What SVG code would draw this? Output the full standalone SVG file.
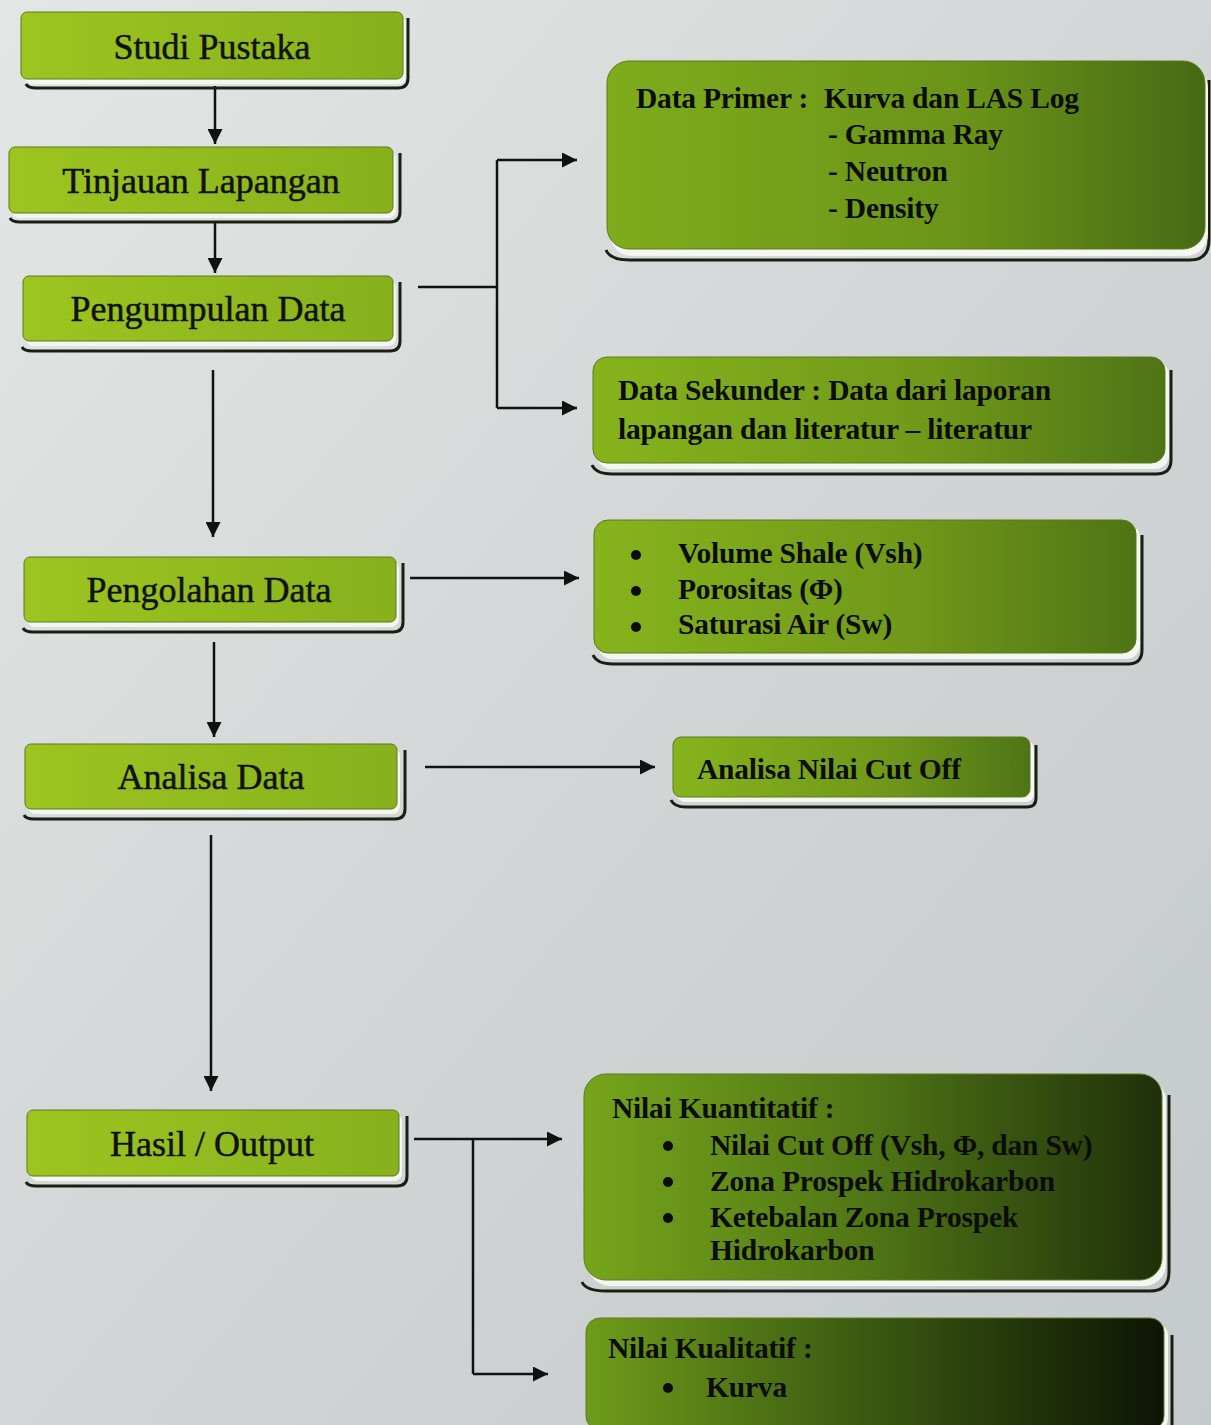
<svg xmlns="http://www.w3.org/2000/svg" width="1211" height="1425" viewBox="0 0 1211 1425">
<defs>
<linearGradient id="bg" x1="0" y1="0" x2="1" y2="1">
<stop offset="0" stop-color="#e2e6e4"/><stop offset="0.5" stop-color="#d2d6d6"/><stop offset="1" stop-color="#c4c9cb"/>
</linearGradient>
<linearGradient id="gL" x1="0" y1="0" x2="1" y2="0">
<stop offset="0" stop-color="#9cc520"/><stop offset="1" stop-color="#86b11c"/>
</linearGradient>
<linearGradient id="gR1" x1="0" y1="0" x2="1" y2="0">
<stop offset="0" stop-color="#7eac1c"/><stop offset="0.6" stop-color="#6a9418"/><stop offset="1" stop-color="#466a14"/>
</linearGradient>
<linearGradient id="gR2" x1="0" y1="0" x2="1" y2="0">
<stop offset="0" stop-color="#86b41c"/><stop offset="0.6" stop-color="#6f9819"/><stop offset="1" stop-color="#4e7416"/>
</linearGradient>
<linearGradient id="gR3" x1="0" y1="0" x2="1" y2="0">
<stop offset="0" stop-color="#76a51b"/><stop offset="0.5" stop-color="#4f7515"/><stop offset="1" stop-color="#1f300a"/>
</linearGradient>
<linearGradient id="gR4" x1="0" y1="0" x2="1" y2="0">
<stop offset="0" stop-color="#6e9c1a"/><stop offset="0.45" stop-color="#3e5e12"/><stop offset="1" stop-color="#0d1404"/>
</linearGradient>
<marker id="ahb" viewBox="0 0 10 10" refX="10" refY="5" markerWidth="15" markerHeight="15" markerUnits="userSpaceOnUse" orient="auto">
<path d="M0,0 L10,5 L0,10 z" fill="#111"/>
</marker>
</defs>
<style>
.sh{fill:none;stroke:#1a1f14;stroke-width:3}
.rim{fill:#f4f6f2}
.bx{stroke:#5c7a1a;stroke-width:1}
.tl{font-family:"Liberation Serif","Times New Roman",serif;font-size:36px;fill:#111;stroke:#111;stroke-width:0.5;text-anchor:middle}
.tr{font-family:"Liberation Serif","Times New Roman",serif;font-size:29.5px;font-weight:bold;fill:#0c0c0c;letter-spacing:-0.2px}
.cn{stroke:#111;stroke-width:2.5;fill:none}
</style>
<rect width="1211" height="1425" fill="url(#bg)"/>

<g id="connectors">
<line class="cn" x1="215" y1="86" x2="215" y2="144" marker-end="url(#ahb)"/>
<line class="cn" x1="215" y1="222" x2="215" y2="273" marker-end="url(#ahb)"/>
<line class="cn" x1="213" y1="370" x2="213" y2="537" marker-end="url(#ahb)"/>
<line class="cn" x1="214" y1="642" x2="214" y2="737" marker-end="url(#ahb)"/>
<line class="cn" x1="211" y1="835" x2="211" y2="1091" marker-end="url(#ahb)"/>
<polyline class="cn" points="418,287 497,287"/>
<polyline class="cn" points="497,160 497,408"/>
<line class="cn" x1="497" y1="160" x2="577" y2="160" marker-end="url(#ahb)"/>
<line class="cn" x1="497" y1="408" x2="577" y2="408" marker-end="url(#ahb)"/>
<line class="cn" x1="410" y1="578" x2="579" y2="578" marker-end="url(#ahb)"/>
<line class="cn" x1="425" y1="767" x2="655" y2="767" marker-end="url(#ahb)"/>
<line class="cn" x1="414" y1="1139" x2="562" y2="1139" marker-end="url(#ahb)"/>
<polyline class="cn" points="473,1139 473,1374"/>
<line class="cn" x1="473" y1="1374" x2="548" y2="1374" marker-end="url(#ahb)"/>
</g>

<g id="studi-pustaka">
<path class="sh" d="M26,84 Q28,88 36,88 L398,88 Q408,88 408,78 L408,18"/>
<rect class="rim" x="24" y="16" width="382" height="68" rx="8"/>
<rect class="bx" x="21" y="12" width="382" height="67" rx="6" fill="url(#gL)"/>
<text class="tl" x="212" y="59">Studi Pustaka</text>
</g>

<g id="tinjauan-lapangan">
<path class="sh" d="M10,218 Q12,222 20,222 L390,222 Q400,222 400,212 L400,153"/>
<rect class="rim" x="12" y="151" width="384" height="67" rx="8"/>
<rect class="bx" x="9" y="147" width="384" height="66" rx="6" fill="url(#gL)"/>
<text class="tl" x="201" y="193">Tinjauan Lapangan</text>
</g>

<g id="pengumpulan-data">
<path class="sh" d="M22,347 Q24,351 32,351 L390,351 Q400,351 400,341 L400,282"/>
<rect class="rim" x="26" y="280" width="370" height="66" rx="8"/>
<rect class="bx" x="23" y="276" width="370" height="65" rx="6" fill="url(#gL)"/>
<text class="tl" x="208" y="321">Pengumpulan Data</text>
</g>

<g id="pengolahan-data">
<path class="sh" d="M23,628 Q25,632 33,632 L393,632 Q403,632 403,622 L403,563"/>
<rect class="rim" x="27" y="561" width="372" height="66" rx="8"/>
<rect class="bx" x="24" y="557" width="372" height="65" rx="6" fill="url(#gL)"/>
<text class="tl" x="209" y="602">Pengolahan Data</text>
</g>

<g id="analisa-data">
<path class="sh" d="M24,815 Q26,819 34,819 L395,819 Q405,819 405,809 L405,750"/>
<rect class="rim" x="28" y="748" width="372" height="66" rx="8"/>
<rect class="bx" x="25" y="744" width="372" height="65" rx="6" fill="url(#gL)"/>
<text class="tl" x="211" y="789">Analisa Data</text>
</g>

<g id="hasil-output">
<path class="sh" d="M26,1182 Q28,1186 36,1186 L397,1186 Q407,1186 407,1176 L407,1116"/>
<rect class="rim" x="30" y="1114" width="372" height="67" rx="8"/>
<rect class="bx" x="27" y="1110" width="372" height="66" rx="6" fill="url(#gL)"/>
<text class="tl" x="212" y="1156">Hasil / Output</text>
</g>

<g id="data-primer">
<path class="sh" d="M606,250 Q610,260 630,260 L1190,260 Q1209,260 1209,240 L1209,80"/>
<rect class="rim" x="610" y="66" width="598" height="190" rx="22"/>
<rect class="bx" x="607" y="61" width="598" height="188" rx="22" fill="url(#gR1)"/>
<text class="tr" x="636" y="108">Data Primer :</text>
<text class="tr" x="824" y="108">Kurva dan LAS Log</text>
<text class="tr" x="828" y="144">- Gamma Ray</text>
<text class="tr" x="828" y="181">- Neutron</text>
<text class="tr" x="828" y="218">- Density</text>
</g>

<g id="data-sekunder">
<path class="sh" d="M592,465 Q596,474 612,474 L1156,474 Q1171,474 1171,460 L1171,370"/>
<rect class="rim" x="597" y="361" width="572" height="108" rx="14"/>
<rect class="bx" x="593" y="357" width="572" height="106" rx="14" fill="url(#gR2)"/>
<text class="tr" x="618" y="400">Data Sekunder : Data dari laporan</text>
<text class="tr" x="618" y="439">lapangan dan literatur – literatur</text>
</g>

<g id="parameter-petrofisika">
<path class="sh" d="M593,655 Q597,664 613,664 L1128,664 Q1142,664 1142,650 L1142,535"/>
<rect class="rim" x="598" y="524" width="542" height="135" rx="14"/>
<rect class="bx" x="594" y="520" width="542" height="133" rx="14" fill="url(#gR2)"/>
<circle cx="636" cy="555" r="5" fill="#0c0c0c"/>
<circle cx="636" cy="591" r="5" fill="#0c0c0c"/>
<circle cx="636" cy="627" r="5" fill="#0c0c0c"/>
<text class="tr" x="678" y="563">Volume Shale (Vsh)</text>
<text class="tr" x="678" y="599">Porositas (Φ)</text>
<text class="tr" x="678" y="634">Saturasi Air (Sw)</text>
</g>

<g id="analisa-nilai-cut-off">
<path class="sh" d="M671,800 Q674,807 686,807 L1027,807 Q1036,807 1036,798 L1036,745"/>
<rect class="rim" x="677" y="741" width="357" height="61" rx="8"/>
<rect class="bx" x="673" y="737" width="357" height="60" rx="8" fill="url(#gR2)"/>
<text class="tr" x="697" y="779">Analisa Nilai Cut Off</text>
</g>

<g id="nilai-kuantitatif">
<path class="sh" d="M582,1282 Q586,1291 606,1291 L1150,1291 Q1169,1291 1169,1272 L1169,1095"/>
<rect class="rim" x="588" y="1079" width="578" height="207" rx="22"/>
<rect class="bx" x="584" y="1074" width="578" height="206" rx="22" fill="url(#gR3)"/>
<text class="tr" x="612" y="1118">Nilai Kuantitatif :</text>
<circle cx="668" cy="1146" r="5" fill="#0c0c0c"/>
<circle cx="668" cy="1182" r="5" fill="#0c0c0c"/>
<circle cx="668" cy="1218" r="5" fill="#0c0c0c"/>
<text class="tr" x="710" y="1155">Nilai Cut Off (Vsh, Φ, dan Sw)</text>
<text class="tr" x="710" y="1191">Zona Prospek Hidrokarbon</text>
<text class="tr" x="710" y="1227">Ketebalan Zona Prospek</text>
<text class="tr" x="710" y="1260">Hidrokarbon</text>
</g>

<g id="nilai-kualitatif">
<path class="sh" d="M1172,1335 L1172,1425"/>
<rect class="rim" x="590" y="1322" width="578" height="110" rx="14"/>
<rect class="bx" x="586" y="1318" width="578" height="112" rx="14" fill="url(#gR4)"/>
<text class="tr" x="608" y="1358">Nilai Kualitatif :</text>
<circle cx="668" cy="1388" r="5" fill="#0c0c0c"/>
<text class="tr" x="706" y="1397">Kurva</text>
</g>
</svg>
